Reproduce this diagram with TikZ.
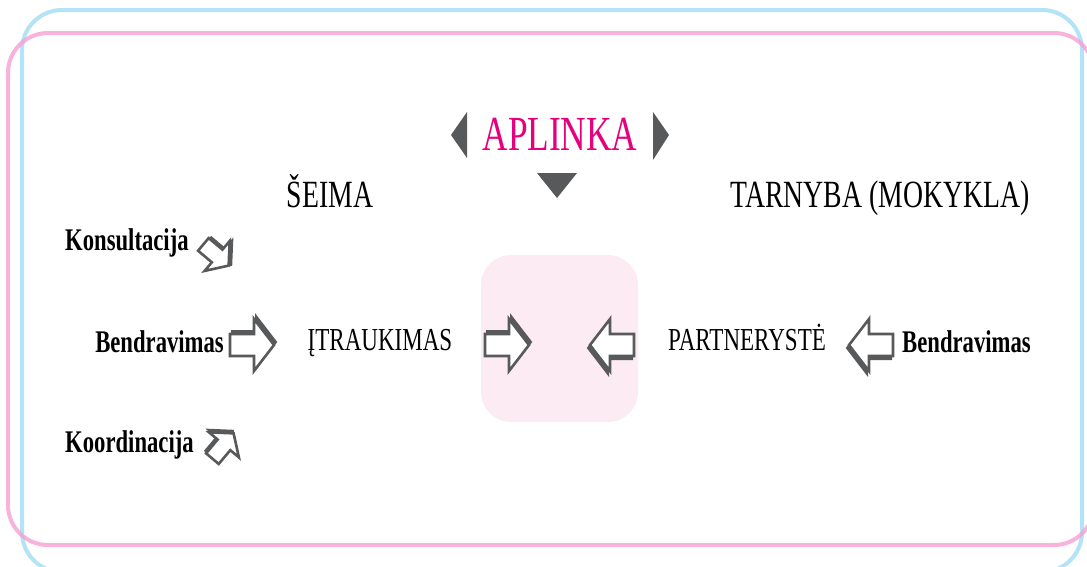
\documentclass[tikz,border=0pt]{standalone}
\usepackage{fontspec}
\setmainfont[FakeStretch=0.72]{Liberation Serif}
\usepackage{tikz}
\definecolor{arrowgray}{RGB}{88,89,91}
\definecolor{aplinkapink}{RGB}{230,0,126}
\definecolor{frameblue}{RGB}{160,220,245}
\definecolor{framepink}{RGB}{245,160,210}
\definecolor{boxpink}{RGB}{252,235,243}
\tikzset{
    arrowpath/.style={insert path={(-22,-11) -- (2,-11) -- (2,-26) -- (22,0) -- (2,26) -- (2,11) -- (-22,11) -- cycle}},
    pics/blockarrow/.style={
        code={
            \path[draw=arrowgray, fill=arrowgray, line width=2pt, line join=miter, shift={(2,-3)}, arrowpath];
            \path[draw=arrowgray, fill=white, line width=2.6pt, line join=miter, arrowpath];
        }
    },
    title/.style={anchor=base, inner sep=0pt, text=aplinkapink, font=\fontsize{49}{51}\selectfont},
    heading/.style={anchor=base, inner sep=0pt, font=\fontsize{38.5}{40}\selectfont},
    mid/.style={anchor=base, inner sep=0pt, font=\fontsize{32}{34}\selectfont},
    side/.style={inner sep=0pt, font=\fontsize{31.5}{33}\selectfont\bfseries},
}
\begin{document}
\begin{tikzpicture}[x=1pt, y=-1pt]
    \useasboundingbox (0,0) rectangle (1087,566);
    \draw[frameblue, line width=4pt, opacity=0.8, rounded corners=40pt] (22,10) rectangle (1082,572);
    \draw[framepink, line width=4pt, opacity=0.8, rounded corners=40pt] (8,33) rectangle (1094,545);
    \fill[boxpink, rounded corners=30pt] (481,255) rectangle (638,422);
    % APLINKA with its triangles
    \node[title] (aplinka) at (560,150) {APLINKA};
    \fill[arrowgray] (451,135) -- (467,112) -- (467,158) -- cycle;
    \fill[arrowgray] (669,135) -- (653,112) -- (653,160) -- cycle;
    \fill[arrowgray] (537,173) -- (577,173) -- (557,198) -- cycle;
    \node[heading] (seima) at (330,207) {ŠEIMA};
    \node[heading] (tarnyba) at (880,207) {TARNYBA (MOKYKLA)};
    \node[mid] (itraukimas) at (380,350) {ĮTRAUKIMAS};
    \node[mid] (partneryste) at (747,350) {PARTNERYSTĖ};
    \node[side, anchor=base west] (konsultacija) at (65,250) {Konsultacija};
    \node[side, anchor=base east] (bendravimasL) at (224,352) {Bendravimas};
    \node[side, anchor=base west] (koordinacija) at (65,452) {Koordinacija};
    \node[side, anchor=base west] (bendravimasR) at (902,352) {Bendravimas};
    % block arrows
    \pic[rotate=-40, scale=0.75] at (216,255) {blockarrow};
    \pic at (252,345) {blockarrow};
    \pic[rotate=50, scale=0.75] at (223,446) {blockarrow};
    \pic at (507,345) {blockarrow};
    \pic[rotate=180] at (612,345) {blockarrow};
    \pic[rotate=180] at (871,345) {blockarrow};
\end{tikzpicture}
\end{document}
